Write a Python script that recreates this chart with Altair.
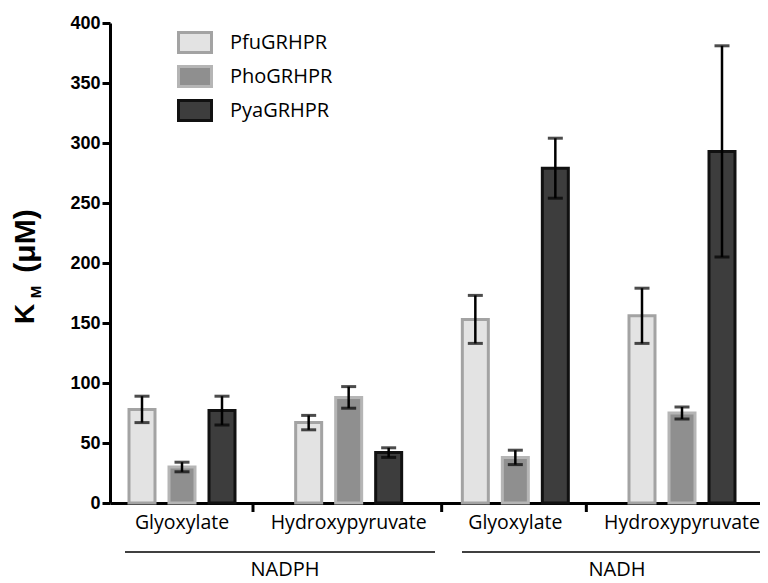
import altair as alt
import pandas as pd

# ---- data ----
cofactors = ["NADPH", "NADH"]
substrates = ["Glyoxylate", "Hydroxypyruvate"]
enzymes = ["PfuGRHPR", "PhoGRHPR", "PyaGRHPR"]

km_pfu = [78, 67, 153, 156]
km_pho = [30, 88, 38, 75]
km_pya = [77, 42, 279, 293]
err_pfu = [11, 6, 20, 23]
err_pho = [4, 9, 6, 5]
err_pya = [12, 4, 25, 88]

groups = [f"{c}|{s}" for c in cofactors for s in substrates]

rows = []
for enz, vals, errs in zip(enzymes, [km_pfu, km_pho, km_pya], [err_pfu, err_pho, err_pya]):
    for g, v, e in zip(groups, vals, errs):
        rows.append({"grp": g, "enzyme": enz, "km": v, "err": e})
df = pd.DataFrame(rows)

fills = ["#e3e3e3", "#8f8f8f", "#3d3d3d"]
strokes = ["#a3a3a3", "#b5b5b5", "#111111"]

W, H = 650, 480
FONT = "Open Sans"

xscale = alt.Scale(domain=groups, paddingInner=0.28, paddingOuter=0.09, align=0.4)
xenc = alt.X(
    "grp:N", scale=xscale, sort=groups,
    axis=alt.Axis(title=None, labelExpr="split(datum.label, '|')[1]", ticks=False,
                  domainWidth=3, domainColor="black", labelFont=FONT, labelFontSize=19.5,
                  labelColor="black", labelPadding=10, labelAngle=0),
)
xoff = alt.XOffset("enzyme:N", sort=enzymes,
                   scale=alt.Scale(domain=enzymes, paddingInner=0.35, paddingOuter=0.175))
yscale = alt.Scale(domain=[0, 400], nice=False)

legend_kw = dict(title=None, orient="none", legendX=73.5, legendY=8,
                 symbolType="M-1.65,-1H1.65V1H-1.65Z", symbolSize=400,
                 symbolStrokeWidth=3, labelFont=FONT, labelFontSize=20,
                 labelColor="black", labelOffset=23.5, rowPadding=1,
                 padding=0, symbolOpacity=1)

base = alt.Chart(df)

bars = base.mark_bar(strokeWidth=3).encode(
    x=xenc,
    xOffset=xoff,
    y=alt.Y("km:Q", scale=yscale,
            axis=alt.Axis(title=None, values=list(range(0, 401, 50)), grid=False,
                          domainWidth=3, domainColor="black", tickWidth=3, tickSize=8,
                          tickColor="black", labelFont="Liberation Sans", labelFontWeight="bold",
                          labelFontSize=18, labelColor="black", labelPadding=2)),
    fill=alt.Fill("enzyme:N", sort=enzymes, scale=alt.Scale(domain=enzymes, range=fills),
                  legend=alt.Legend(**legend_kw)),
    stroke=alt.Stroke("enzyme:N", sort=enzymes, scale=alt.Scale(domain=enzymes, range=strokes),
                      legend=alt.Legend(**legend_kw)),
)

err_base = base.transform_calculate(lo="datum.km - datum.err", hi="datum.km + datum.err")

err_rule = err_base.mark_rule(color="black", strokeWidth=2.5).encode(
    x="grp:N", xOffset=xoff, y=alt.Y("lo:Q", scale=yscale), y2="hi:Q")
cap_lo = err_base.mark_tick(color="black", size=15, thickness=3).encode(
    x="grp:N", xOffset=xoff, y=alt.Y("lo:Q", scale=yscale))
cap_hi = err_base.mark_tick(color="black", size=15, thickness=3).encode(
    x="grp:N", xOffset=xoff, y=alt.Y("hi:Q", scale=yscale))

# group separator ticks under the x axis (offsets past each band's end)
sep_offsets = [11, 33, 11]
xticks = []
for g, off in zip(groups[:-1], sep_offsets):
    xticks.append(alt.Chart(pd.DataFrame({"grp": [g]})).mark_rule(
        color="black", strokeWidth=3, xOffset=off).encode(
        x=alt.X("grp:N", bandPosition=1), y=alt.value(H), y2=alt.value(H + 9)))

# cofactor brackets and labels
cof_layout = {"NADPH": (15, 325, 175), "NADH": (352, W, 507)}
annot = []
for c in cofactors:
    x1, x2, xc = cof_layout[c]
    annot.append(alt.Chart(pd.DataFrame({"c": [c]})).mark_rule(color="black", strokeWidth=1.5).encode(
        x=alt.value(x1), x2=alt.value(x2), y=alt.value(529)))
    annot.append(alt.Chart(pd.DataFrame({"c": [c]})).mark_text(
        font=FONT, fontSize=20, color="black", baseline="top", align="center").encode(
        text="c:N", x=alt.value(xc), y=alt.value(537)))

# y axis title K_M (µM)
title_k = alt.Chart(pd.DataFrame({"t": ["K"]})).mark_text(
    font="Liberation Sans", fontWeight="bold", fontSize=28, angle=270, color="black",
    align="center", baseline="middle").encode(text="t:N", x=alt.value(-84), y=alt.value(291))
title_m = alt.Chart(pd.DataFrame({"t": ["M"]})).mark_text(
    font="Liberation Sans", fontWeight="bold", fontSize=15, angle=270, color="black",
    align="center", baseline="middle").encode(text="t:N", x=alt.value(-74), y=alt.value(269))
title_u = alt.Chart(pd.DataFrame({"t": ["(\u03bcM)"]})).mark_text(
    font="Liberation Sans", fontWeight="bold", fontSize=30, angle=270, color="black",
    align="center", baseline="middle").encode(text="t:N", x=alt.value(-84), y=alt.value(218))

chart = alt.layer(bars, err_rule, cap_lo, cap_hi, *xticks, *annot, title_k, title_m, title_u).properties(
    width=W, height=H,
    autosize=alt.AutoSizeParams(type="none"),
    padding={"left": 102, "top": 15, "right": 0, "bottom": 78},
    background="white",
).configure_view(stroke=None)

chart.save("out.html", embed_options={"renderer": "svg", "actions": False})
